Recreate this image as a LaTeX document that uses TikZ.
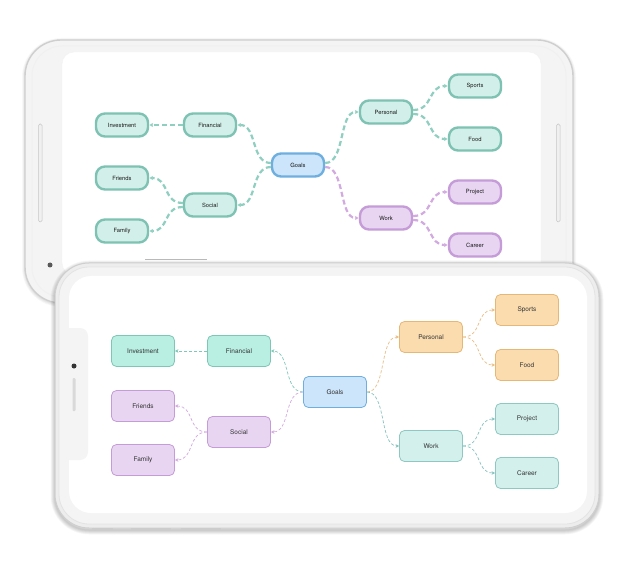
\documentclass[tikz,border=0pt]{standalone}
\usepackage{fontspec}
\setmainfont{TeX Gyre Heros}
\usetikzlibrary{arrows.meta}
\definecolor{tealfill}{HTML}{D3EFE9}
\definecolor{tealline}{HTML}{7DC2B2}
\definecolor{bluefill}{HTML}{CCE5FA}
\definecolor{blueline}{HTML}{6FAFE0}
\definecolor{purpfill}{HTML}{E8D5F1}
\definecolor{purpline}{HTML}{C59CD7}
\definecolor{mintfill}{HTML}{B9EEE2}
\definecolor{mintline}{HTML}{80C6B6}
\definecolor{orngfill}{HTML}{FADCAF}
\definecolor{orngline}{HTML}{E6B878}
\definecolor{aquafill}{HTML}{D3F0EC}
\definecolor{aqualine}{HTML}{8DC8C3}
\definecolor{teallink}{HTML}{8ECFC0}
\definecolor{purplink}{HTML}{D2A9E0}
\definecolor{mintlink}{HTML}{7FC8B8}
\definecolor{orlink}{HTML}{E8BD84}
\definecolor{aqualink}{HTML}{86C3BF}
\definecolor{bodygray}{HTML}{F4F4F4}
\definecolor{rimgray}{HTML}{CFCFCF}

\begin{document}
\begin{tikzpicture}[x=1pt,y=-1pt,
  backbox/.style={draw=#1line, fill=#1fill, line width=2.4pt, rounded corners=9pt,
    minimum width=52pt, minimum height=23pt, inner sep=0pt,
    font=\fontsize{5.8}{6}\selectfont, text=black!90},
  frontbox/.style={draw=#1line, fill=#1fill, line width=0.8pt, rounded corners=5pt,
    minimum width=63pt, minimum height=31pt, inner sep=0pt,
    font=\fontsize{6.5}{7}\selectfont, text=black!80},
  backlink/.style={draw=#1link, line width=2.2pt, dash pattern=on 5pt off 3pt,
    -{Latex[length=3.5pt,width=4.5pt]}},
  frontlink/.style={draw=#1link, line width=0.7pt, dash pattern=on 3pt off 2pt,
    -{Stealth[length=3.5pt,width=3.5pt]}},
  bar/.style={draw=gray!45, fill=gray!12, line width=0.5pt, rounded corners=1.5pt}]
  \def\s{20}% control arm of the curved links

  \fill[white] (0,0) rectangle (624,572);
  \useasboundingbox (0,0) rectangle (624,572);

  %back phone:
  \foreach \k in {1,...,6}{
    \draw[black, opacity=0.02, line width=\k pt, rounded corners=36pt] (25,41) rectangle (573,304);
  }
  \draw[fill=bodygray, draw=rimgray, line width=1.4pt, rounded corners=36pt] (25,40) rectangle (573,303);
  \draw[draw=gray!12, line width=1pt, rounded corners=30pt] (32,46) rectangle (566,297);
  \draw[fill=white, draw=gray!10, rounded corners=12pt] (62,52) rectangle (541,275);
  \draw[bar] (38.5,124) rectangle (42,222);
  \draw[bar] (556.5,124) rectangle (560,222);
  \fill[gray!70!black] (50,265) circle (2.5pt);
  \draw[gray!55, line width=0.8pt] (145,259) -- (207,259);

  %back mind map
  \foreach \nm/\txt/\x/\y/\col in {
      tInv/Investment/122/125/teal, tFin/Financial/210/125/teal,
      tFri/Friends/122/178/teal, tSoc/Social/210/205/teal,
      tFam/Family/122/231/teal, tGoals/Goals/298/165/blue,
      tPer/Personal/386/112/teal, tSpo/Sports/475/86/teal,
      tFood/Food/475/139/teal, tPro/Project/475/192/purp,
      tWork/Work/386/218/purp, tCar/Career/475/245/purp}{
    \node[backbox=\col] (\nm) at (\x,\y) {\txt};
  }
  \draw[backlink=teal] ([yshift=2pt]tGoals.west) .. controls +(-\s,0) and +(\s,0) .. (tFin.east);
  \draw[backlink=teal] ([yshift=-2pt]tGoals.west) .. controls +(-\s,0) and +(\s,0) .. (tSoc.east);
  \draw[backlink=teal] (tFin.west) -- (tInv.east);
  \draw[backlink=teal] ([yshift=2pt]tSoc.west) .. controls +(-\s,0) and +(\s,0) .. (tFri.east);
  \draw[backlink=teal] ([yshift=-2pt]tSoc.west) .. controls +(-\s,0) and +(\s,0) .. (tFam.east);
  \draw[backlink=teal] ([yshift=2pt]tGoals.east) .. controls +(\s,0) and +(-\s,0) .. (tPer.west);
  \draw[backlink=purp] ([yshift=-2pt]tGoals.east) .. controls +(\s,0) and +(-\s,0) .. (tWork.west);
  \draw[backlink=teal] ([yshift=2pt]tPer.east) .. controls +(\s,0) and +(-\s,0) .. (tSpo.west);
  \draw[backlink=teal] ([yshift=-2pt]tPer.east) .. controls +(\s,0) and +(-\s,0) .. (tFood.west);
  \draw[backlink=purp] ([yshift=2pt]tWork.east) .. controls +(\s,0) and +(-\s,0) .. (tPro.west);
  \draw[backlink=purp] ([yshift=-2pt]tWork.east) .. controls +(\s,0) and +(-\s,0) .. (tCar.west);

  %front phone:
  \foreach \k in {1,...,9}{
    \draw[black, opacity=0.025, line width=\k pt, rounded corners=34pt] (55,265) rectangle (599,530);
  }
  \draw[fill=gray!14, draw=rimgray, line width=1pt, rounded corners=34pt] (55,263) rectangle (599,528);
  \draw[fill=bodygray, draw=gray!22, line width=0.8pt, rounded corners=30pt] (59,267) rectangle (595,524);
  \fill[white, rounded corners=22pt] (69,276) rectangle (587,513);
  \fill[gray!9, rounded corners=8pt] (60,328) rectangle (88,460);
  \fill[black!80] (74,366) circle (2.5pt);
  \fill[gray!30, rounded corners=1pt] (72.5,378) rectangle (75.5,411);
  \foreach \a/\b in {92/113, 131/171, 181/221}{
    \fill[gray!40] (\a,528) rectangle (\b,531);
  }

  %front mind map
  \foreach \nm/\txt/\x/\y/\col in {
      fInv/Investment/143/351/mint, fFin/Financial/239/351/mint,
      fFri/Friends/143/406/purp, fSoc/Social/239/432/purp,
      fFam/Family/143/460/purp, fGoals/Goals/335/392/blue,
      fPer/Personal/431/337/orng, fSpo/Sports/527/310/orng,
      fFood/Food/527/365/orng, fPro/Project/527/419/aqua,
      fWork/Work/431/446/aqua, fCar/Career/527/473/aqua}{
    \node[frontbox=\col] (\nm) at (\x,\y) {\txt};
  }
  \draw[frontlink=mint] (fGoals.west) .. controls +(-\s,0) and +(\s,0) .. (fFin.east);
  \draw[frontlink=purp] (fGoals.west) .. controls +(-\s,0) and +(\s,0) .. (fSoc.east);
  \draw[frontlink=mint] (fFin.west) -- (fInv.east);
  \draw[frontlink=purp] (fSoc.west) .. controls +(-\s,0) and +(\s,0) .. (fFri.east);
  \draw[frontlink=purp] (fSoc.west) .. controls +(-\s,0) and +(\s,0) .. (fFam.east);
  \draw[frontlink=or] (fGoals.east) .. controls +(\s,0) and +(-\s,0) .. (fPer.west);
  \draw[frontlink=aqua] (fGoals.east) .. controls +(\s,0) and +(-\s,0) .. (fWork.west);
  \draw[frontlink=or] (fPer.east) .. controls +(\s,0) and +(-\s,0) .. (fSpo.west);
  \draw[frontlink=or] (fPer.east) .. controls +(\s,0) and +(-\s,0) .. (fFood.west);
  \draw[frontlink=aqua] (fWork.east) .. controls +(\s,0) and +(-\s,0) .. (fPro.west);
  \draw[frontlink=aqua] (fWork.east) .. controls +(\s,0) and +(-\s,0) .. (fCar.west);
\end{tikzpicture}
\end{document}
